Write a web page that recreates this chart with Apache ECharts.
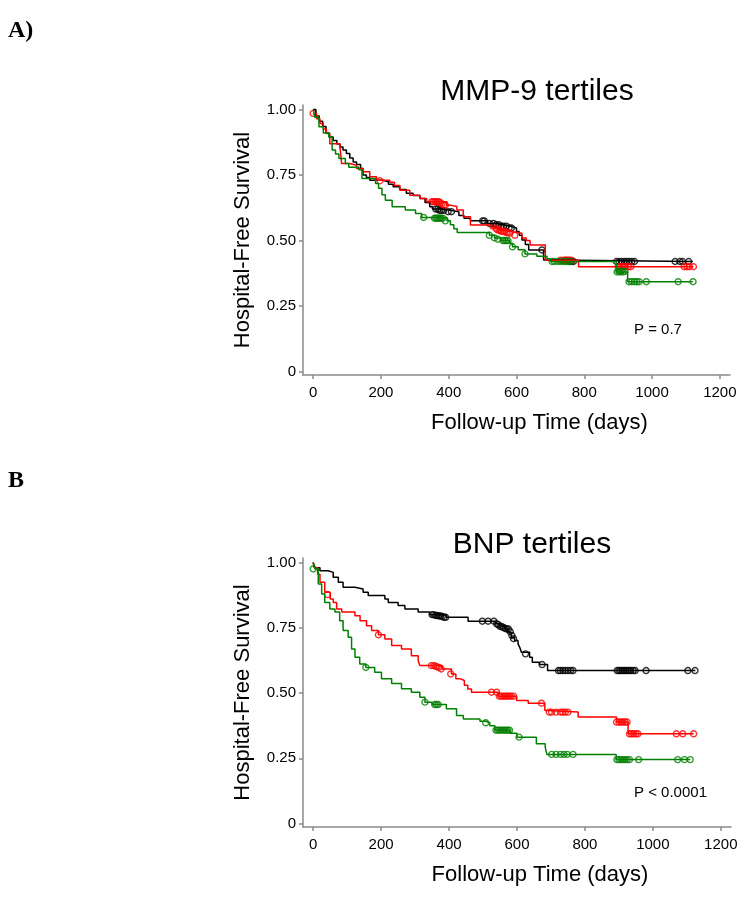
<!DOCTYPE html>
<html>
<head>
<meta charset="utf-8">
<script src="https://cdn.jsdelivr.net/npm/echarts@6/dist/echarts.min.js"></script>
<style>
html,body{margin:0;padding:0;background:#fff;}
#chart{width:750px;height:898px;}
</style>
</head>
<body>
<div id="chart"></div>
<script>
// ---- Tick labels ----
var xTicks = [0, 200, 400, 600, 800, 1000, 1200];
var yTicks = [0, 0.25, 0.5, 0.75, 1];

// ---- Panel A: MMP-9 tertiles (step points [day, survival]) ----
var mmpBlack = [[0,1.0],[8,0.975],[18,0.955],[28,0.935],[38,0.91],[48,0.895],[59,0.882],[70,0.868],[79,0.857],[88,0.845],[98,0.832],[108,0.815],[118,0.80],[128,0.79],[140,0.775],[147,0.75],[157,0.74],[167,0.73],[206,0.724],[222,0.715],[236,0.705],[255,0.695],[275,0.68],[295,0.672],[315,0.66],[330,0.645],[344,0.629],[352,0.62],[380,0.615],[405,0.61],[430,0.595],[445,0.585],[464,0.575],[515,0.565],[540,0.56],[560,0.555],[580,0.548],[600,0.534],[608,0.52],[616,0.502],[626,0.485],[636,0.464],[680,0.426],[700,0.42],[1120,0.42]];
var mmpBlackCensored = [[362,0.62],[368,0.62],[373,0.615],[378,0.615],[385,0.615],[398,0.61],[408,0.61],[500,0.575],[505,0.575],[520,0.565],[532,0.565],[540,0.56],[548,0.56],[555,0.555],[562,0.555],[570,0.555],[578,0.548],[585,0.548],[675,0.464],[755,0.42],[762,0.42],[768,0.42],[895,0.42],[903,0.42],[910,0.42],[918,0.42],[925,0.42],[932,0.42],[940,0.42],[948,0.42],[1068,0.42],[1082,0.42],[1090,0.42],[1108,0.42]];
var mmpRed = [[0,0.985],[10,0.965],[20,0.946],[30,0.925],[39,0.908],[49,0.869],[79,0.857],[84,0.794],[108,0.787],[128,0.775],[148,0.762],[167,0.743],[187,0.73],[226,0.722],[240,0.71],[256,0.692],[285,0.673],[315,0.66],[335,0.648],[395,0.635],[405,0.63],[424,0.616],[443,0.591],[464,0.559],[527,0.55],[545,0.54],[560,0.535],[580,0.528],[616,0.51],[629,0.50],[640,0.483],[685,0.425],[783,0.40],[1122,0.40]];
var mmpRedCensored = [[0,0.985],[197,0.728],[350,0.648],[355,0.648],[360,0.648],[365,0.648],[370,0.648],[375,0.645],[380,0.64],[385,0.635],[390,0.635],[530,0.555],[540,0.545],[545,0.54],[550,0.54],[555,0.535],[560,0.535],[565,0.535],[570,0.53],[575,0.53],[580,0.528],[595,0.52],[730,0.425],[740,0.425],[745,0.425],[750,0.425],[755,0.425],[762,0.425],[900,0.40],[905,0.40],[910,0.40],[915,0.40],[920,0.40],[930,0.40],[937,0.40],[1095,0.40],[1103,0.40],[1110,0.40],[1122,0.40]];
var mmpGreen = [[0,1.0],[5,0.97],[17,0.934],[30,0.91],[46,0.895],[56,0.845],[66,0.83],[76,0.813],[95,0.794],[105,0.78],[135,0.77],[144,0.737],[184,0.718],[193,0.699],[203,0.675],[213,0.654],[233,0.629],[272,0.616],[302,0.603],[320,0.588],[395,0.575],[405,0.56],[415,0.545],[425,0.531],[520,0.52],[535,0.51],[555,0.50],[580,0.49],[588,0.476],[605,0.465],[625,0.449],[660,0.44],[690,0.43],[700,0.42],[895,0.38],[928,0.343],[1120,0.343]];
var mmpGreenCensored = [[326,0.588],[358,0.585],[362,0.585],[366,0.585],[370,0.585],[374,0.585],[378,0.585],[383,0.585],[390,0.575],[520,0.52],[535,0.51],[545,0.505],[560,0.50],[565,0.50],[570,0.50],[575,0.50],[588,0.476],[625,0.449],[705,0.42],[712,0.42],[722,0.42],[730,0.42],[738,0.42],[745,0.42],[752,0.42],[760,0.42],[897,0.38],[902,0.383],[906,0.38],[910,0.385],[915,0.38],[920,0.383],[932,0.343],[940,0.343],[948,0.343],[955,0.343],[962,0.343],[983,0.343],[1077,0.343],[1121,0.343]];

// ---- Panel B: BNP tertiles ----
var bnpBlack = [[0,1.0],[5,0.98],[20,0.968],[44,0.962],[59,0.943],[74,0.924],[88,0.905],[123,0.898],[147,0.886],[162,0.873],[211,0.86],[221,0.847],[250,0.835],[270,0.822],[309,0.81],[343,0.80],[392,0.79],[456,0.775],[536,0.765],[550,0.755],[565,0.745],[574,0.732],[583,0.714],[593,0.701],[603,0.688],[608,0.675],[613,0.656],[637,0.637],[645,0.618],[666,0.609],[690,0.586],[1125,0.586]];
var bnpBlackCensored = [[350,0.80],[355,0.80],[360,0.797],[365,0.797],[370,0.795],[375,0.795],[380,0.793],[385,0.79],[390,0.79],[498,0.775],[515,0.775],[532,0.775],[540,0.765],[545,0.762],[550,0.755],[555,0.755],[560,0.75],[565,0.748],[570,0.745],[575,0.745],[580,0.735],[585,0.72],[590,0.708],[625,0.65],[674,0.609],[722,0.586],[728,0.586],[735,0.586],[742,0.586],[750,0.586],[758,0.586],[765,0.586],[895,0.586],[900,0.586],[905,0.586],[910,0.586],[915,0.586],[920,0.586],[925,0.586],[930,0.586],[935,0.586],[942,0.586],[948,0.586],[980,0.586],[1103,0.586],[1124,0.586]];
var bnpRed = [[0,1.0],[3,0.98],[13,0.955],[20,0.924],[34,0.886],[50,0.86],[59,0.847],[69,0.822],[84,0.81],[123,0.796],[138,0.777],[157,0.758],[172,0.739],[192,0.723],[211,0.707],[231,0.682],[260,0.669],[289,0.643],[309,0.624],[314,0.605],[380,0.592],[407,0.573],[420,0.555],[432,0.548],[445,0.53],[455,0.515],[466,0.503],[545,0.488],[599,0.471],[633,0.461],[682,0.433],[692,0.427],[780,0.408],[893,0.389],[927,0.344],[1120,0.344]];
var bnpRedCensored = [[42,0.877],[192,0.723],[348,0.605],[355,0.605],[360,0.603],[365,0.6],[370,0.598],[377,0.592],[405,0.573],[525,0.503],[540,0.503],[548,0.488],[553,0.488],[558,0.488],[563,0.488],[568,0.488],[573,0.488],[578,0.488],[583,0.488],[590,0.488],[672,0.461],[695,0.427],[702,0.427],[715,0.427],[728,0.427],[735,0.427],[742,0.427],[750,0.427],[893,0.389],[900,0.389],[906,0.389],[912,0.389],[918,0.389],[924,0.389],[931,0.344],[937,0.344],[943,0.344],[950,0.344],[956,0.344],[1069,0.344],[1088,0.344],[1120,0.344]];
var bnpGreen = [[0,1.0],[5,0.975],[15,0.917],[25,0.879],[34,0.847],[49,0.822],[64,0.81],[78,0.777],[88,0.739],[103,0.714],[113,0.669],[123,0.637],[137,0.611],[155,0.598],[181,0.58],[201,0.555],[231,0.536],[260,0.516],[289,0.503],[314,0.484],[329,0.465],[350,0.456],[392,0.44],[422,0.414],[442,0.401],[491,0.392],[508,0.386],[520,0.375],[535,0.358],[579,0.346],[600,0.331],[657,0.306],[683,0.293],[688,0.265],[892,0.245],[1110,0.245]];
var bnpGreenCensored = [[0,0.975],[155,0.598],[329,0.465],[358,0.456],[363,0.456],[368,0.456],[508,0.386],[538,0.358],[543,0.358],[548,0.358],[553,0.358],[558,0.358],[563,0.358],[568,0.358],[573,0.358],[578,0.358],[606,0.331],[702,0.265],[715,0.265],[728,0.265],[738,0.265],[748,0.265],[765,0.265],[894,0.245],[900,0.245],[906,0.245],[912,0.245],[918,0.245],[924,0.245],[931,0.245],[958,0.245],[1073,0.245],[1093,0.245],[1110,0.245]];

var titles = ['MMP-9 tertiles', 'BNP tertiles'];
var pValues = ['P = 0.7', 'P < 0.0001'];
var panelLabels = ['A)', 'B'];
var xName = 'Follow-up Time (days)';
var yName = 'Hospital-Free Survival';

var COLORS = {black:'#000000', red:'#ff0000', green:'#008000'};
var FONT = '"Liberation Sans", Arial, sans-serif';
var chart = echarts.init(document.getElementById('chart'));

function xAxisFor(i){
  return {
    gridIndex:i, type:'value', min:-30, max:1230,
    axisLine:{show:true, onZero:false, lineStyle:{color:'#8a8a8a', width:1.5}},
    axisTick:{show:true, length:4, customValues:xTicks, lineStyle:{color:'#8a8a8a', width:1.5}},
    axisLabel:{customValues:xTicks, color:'#000', fontSize:15, fontFamily:FONT, margin:10,
      formatter:function(v){ return String(v); }},
    splitLine:{show:false},
    name:xName, nameLocation:'middle', nameGap:37,
    nameTextStyle:{color:'#000', fontSize:22, fontFamily:FONT, padding:[0,0,0,46]}
  };
}
function yAxisFor(i){
  return {
    gridIndex:i, type:'value', min:-0.013, max:1.017,
    axisLine:{show:true, onZero:false, lineStyle:{color:'#8a8a8a', width:1.5}},
    axisTick:{show:true, length:4, customValues:yTicks, lineStyle:{color:'#8a8a8a', width:1.5}},
    axisLabel:{customValues:yTicks, color:'#000', fontSize:15, fontFamily:FONT, margin:7,
      formatter:function(v){ return v === 0 ? '0' : v.toFixed(2); }},
    splitLine:{show:false},
    name:yName, nameLocation:'middle', nameGap:49,
    nameTextStyle:{color:'#000', fontSize:22, fontFamily:FONT}
  };
}
function stepSeries(i, data, color){
  return {type:'line', xAxisIndex:i, yAxisIndex:i, step:'end', data:data, showSymbol:false, symbol:'none',
    lineStyle:{color:color, width:1.5}, silent:true, animation:false};
}
function censSeries(i, data, color){
  return {type:'scatter', xAxisIndex:i, yAxisIndex:i, data:data, symbol:'circle', symbolSize:6,
    itemStyle:{color:'rgba(255,255,255,0)', borderColor:color, borderWidth:1.4}, silent:true, animation:false};
}

var option = {
  backgroundColor:'#fff',
  animation:false,
  grid:[
    {left:303, top:105, width:427, height:270},
    {left:303, top:558, width:428, height:269}
  ],
  xAxis:[xAxisFor(0), xAxisFor(1)],
  yAxis:[yAxisFor(0), yAxisFor(1)],
  series:[
    stepSeries(0, mmpBlack, COLORS.black), censSeries(0, mmpBlackCensored, COLORS.black),
    stepSeries(0, mmpRed, COLORS.red), censSeries(0, mmpRedCensored, COLORS.red),
    stepSeries(0, mmpGreen, COLORS.green), censSeries(0, mmpGreenCensored, COLORS.green),
    stepSeries(1, bnpBlack, COLORS.black), censSeries(1, bnpBlackCensored, COLORS.black),
    stepSeries(1, bnpRed, COLORS.red), censSeries(1, bnpRedCensored, COLORS.red),
    stepSeries(1, bnpGreen, COLORS.green), censSeries(1, bnpGreenCensored, COLORS.green)
  ],
  graphic:[
    {type:'text', x:537, y:92, style:{text:titles[0], fill:'#000', font:'30px ' + FONT, textAlign:'center', textVerticalAlign:'middle'}},
    {type:'text', x:532, y:545, style:{text:titles[1], fill:'#000', font:'30px ' + FONT, textAlign:'center', textVerticalAlign:'middle'}},
    {type:'text', x:634, y:330, style:{text:pValues[0], fill:'#000', font:'15px ' + FONT, textAlign:'left', textVerticalAlign:'middle'}},
    {type:'text', x:634, y:793, style:{text:pValues[1], fill:'#000', font:'15px ' + FONT, textAlign:'left', textVerticalAlign:'middle'}},
    {type:'text', x:8, y:31, style:{text:panelLabels[0], fill:'#000', font:'bold 24px "Liberation Serif", "Times New Roman", serif', textAlign:'left', textVerticalAlign:'middle'}},
    {type:'text', x:8, y:481, style:{text:panelLabels[1], fill:'#000', font:'bold 24px "Liberation Serif", "Times New Roman", serif', textAlign:'left', textVerticalAlign:'middle'}}
  ]
};
chart.setOption(option);
</script>
</body>
</html>
